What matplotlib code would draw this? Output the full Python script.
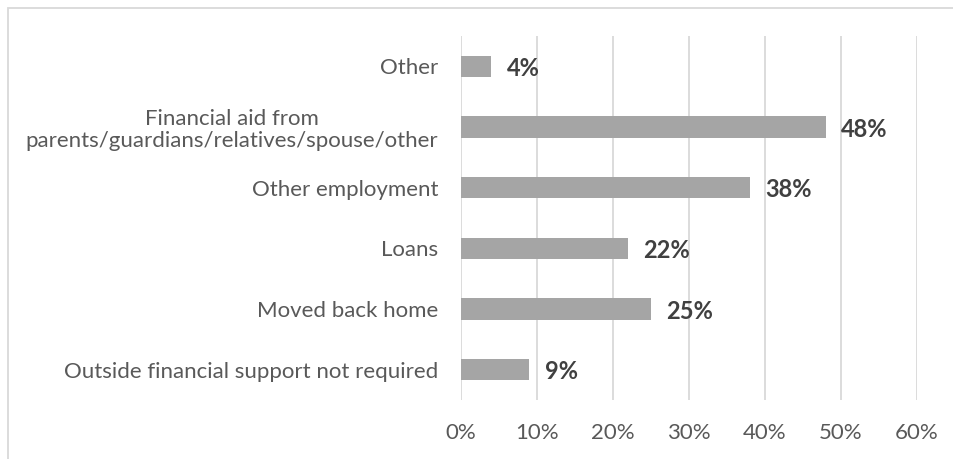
import matplotlib
matplotlib.use("Agg")
import matplotlib.pyplot as plt
from matplotlib.patches import Rectangle
from matplotlib.ticker import PercentFormatter

plt.rcParams['font.family'] = ['Lato', 'DejaVu Sans']

# support sources, drawn top to bottom
categories = [
    "Other",
    "Financial aid from\nparents/guardians/relatives/spouse/other",
    "Other employment",
    "Loans",
    "Moved back home",
    "Outside financial support not required",
]
shares = [4, 48, 38, 22, 25, 9]
xticks = [0, 10, 20, 30, 40, 50, 60]

W, H = 954, 459
fig = plt.figure(figsize=(W / 100, H / 100), dpi=100)
ax = fig.add_axes([461 / W, 1 - 400 / H, (917 - 461) / W, (400 - 36) / H])

ypos = list(range(len(categories)))[::-1]
ax.barh(ypos, shares, height=0.355, color="#a5a5a5", zorder=3)

for y, v in zip(ypos, shares):
    ax.annotate(f"{v}%", (v, y), xytext=(11, -1.5), textcoords="offset points",
                ha="left", va="center", fontsize=17, fontweight="bold",
                color="#404040", zorder=4)

ax.set_xlim(0, 60)
ax.set_ylim(-0.5, len(categories) - 0.5)
ax.set_xticks(xticks)
ax.xaxis.set_major_formatter(PercentFormatter(decimals=0))
ax.set_yticks(ypos)
ax.set_yticklabels(categories, multialignment="center", linespacing=1.15)

ax.tick_params(axis="x", length=0, pad=16.5, labelsize=16, labelcolor="#595959")
ax.tick_params(axis="y", length=0, pad=16.5, labelsize=16, labelcolor="#595959")
ax.grid(axis="x", color="#d9d9d9", linewidth=1.3, zorder=0)
for s in ax.spines.values():
    s.set_visible(False)

# chart area border
fig.patches.append(Rectangle((8 / W, -0.2), 1.2, 1.2 - 7.5 / H,
                             transform=fig.transFigure, fill=False,
                             edgecolor="#d9d9d9", linewidth=1.3))

fig.savefig("out.png", dpi=100)
